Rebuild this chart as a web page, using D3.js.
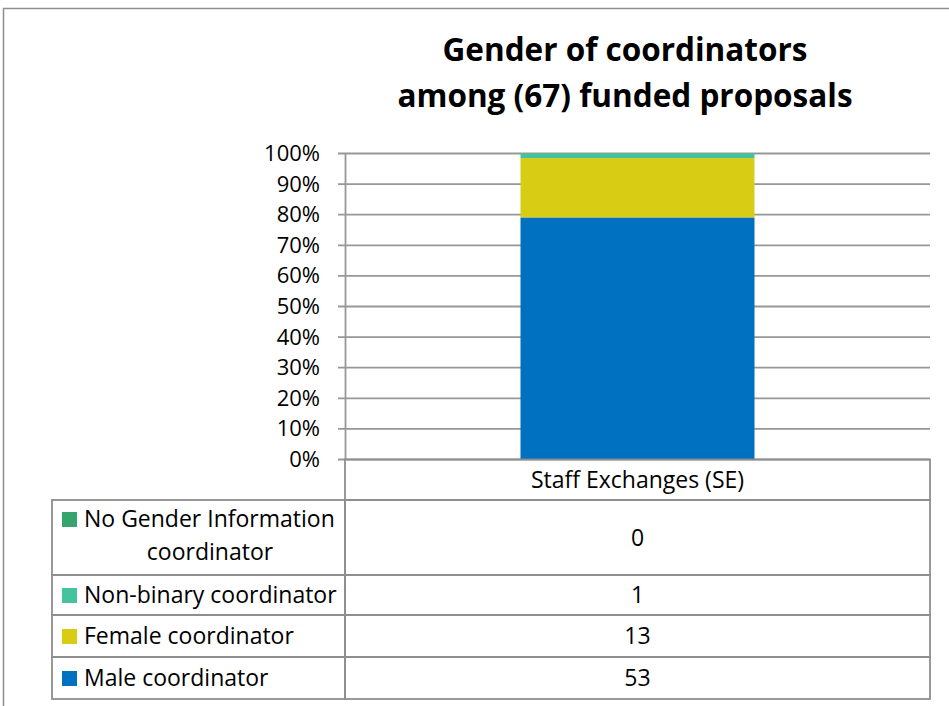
<!DOCTYPE html>
<html>
<head>
<meta charset="utf-8">
<script src="https://cdn.jsdelivr.net/npm/d3@7"></script>
<style>
  body { margin: 0; background: #fff; }
  svg { font-family: "Open Sans", Lato, sans-serif; }
</style>
</head>
<body>
<div id="chart"></div>
<script>
// data
const categories = ['Staff Exchanges (SE)'];
const seriesNames = ['Male coordinator', 'Female coordinator', 'Non-binary coordinator', 'No Gender Information coordinator'];
const seriesValues = [[53], [13], [1], [0]];
const seriesColors = ['#0070c0', '#d8cd14', '#45c39f', '#36a46d'];
const tickValues = [0, 0.1, 0.2, 0.3, 0.4, 0.5, 0.6, 0.7, 0.8, 0.9, 1];
const titleLines = ['Gender of coordinators', 'among (67) funded proposals'];

const width = 949, height = 706;
const plot = { left: 345, right: 930, top: 153.5, bottom: 459.5 };
const tickFont = 22, tableFont = 23;

const svg = d3.select('#chart').append('svg')
    .attr('width', width)
    .attr('height', height);

// outer chart border
svg.append('rect')
    .attr('x', 3.5).attr('y', 8.5)
    .attr('width', 960).attr('height', 720)
    .attr('fill', 'none')
    .attr('stroke', '#8e8e8e')
    .attr('stroke-width', 1.5);

// title
svg.append('text')
    .attr('text-anchor', 'middle')
    .attr('font-weight', 'bold')
    .attr('font-size', 31.5)
    .attr('fill', '#000')
    .selectAll('tspan')
    .data(titleLines)
    .join('tspan')
    .attr('x', 625)
    .attr('y', (d, i) => 61 + i * 46)
    .text(d => d);

const y = d3.scaleLinear().domain([0, 1]).range([plot.bottom, plot.top]);
const x = d3.scaleBand().domain(categories).range([plot.left, plot.right]).paddingInner(0.6).paddingOuter(0.3);

// stack as percentages
const rows = categories.map((c, j) => {
    const row = { cat: c };
    const total = d3.sum(seriesValues, s => s[j]);
    seriesNames.forEach((n, i) => { row[n] = seriesValues[i][j] / total; });
    return row;
});
const stacked = d3.stack().keys(seriesNames)(rows);

// gridlines
svg.append('g')
    .selectAll('line')
    .data(tickValues)
    .join('line')
    .attr('x1', plot.left - 7).attr('x2', plot.right)
    .attr('y1', d => y(d)).attr('y2', d => y(d))
    .attr('stroke', '#979797')
    .attr('stroke-width', 1.8);

// bars
svg.append('g')
    .selectAll('g')
    .data(stacked)
    .join('g')
    .attr('fill', (d, i) => seriesColors[i])
    .selectAll('rect')
    .data(d => d)
    .join('rect')
    .attr('x', d => x(d.data.cat))
    .attr('width', x.bandwidth())
    .attr('y', d => y(d[1]))
    .attr('height', d => y(d[0]) - y(d[1]));

// y axis
const yAxis = svg.append('g')
    .attr('transform', `translate(${plot.left},0)`)
    .call(d3.axisLeft(y).tickValues(tickValues).tickFormat(d3.format('.0%')).tickSize(0).tickPadding(25));
yAxis.select('.domain').attr('stroke', '#979797').attr('stroke-width', 1.8);
yAxis.selectAll('text')
    .attr('font-family', '"Open Sans", sans-serif')
    .attr('font-size', tickFont)
    .attr('fill', '#000');

// data table
const tableLeft = 52, colSplit = plot.left, tableRight = plot.right;
const headTop = plot.bottom, headBottom = 500;
const rowBounds = [500, 575, 615, 657, 699];
const tableOrder = [3, 2, 1, 0];   // series order shown in table, top to bottom
const lineColor = '#8e8e8e';

const tbl = svg.append('g');

// header cell
tbl.append('rect')
    .attr('x', colSplit).attr('y', headTop)
    .attr('width', tableRight - colSplit).attr('height', headBottom - headTop)
    .attr('fill', 'none').attr('stroke', lineColor).attr('stroke-width', 1.8);
tbl.append('text')
    .attr('x', x(categories[0]) + x.bandwidth() / 2)
    .attr('y', 488)
    .attr('text-anchor', 'middle')
    .attr('font-size', tableFont)
    .text(categories[0]);

tableOrder.forEach((si, r) => {
    const top = rowBounds[r], bot = rowBounds[r + 1];
    tbl.append('rect')
        .attr('x', tableLeft).attr('y', top)
        .attr('width', colSplit - tableLeft).attr('height', bot - top)
        .attr('fill', 'none').attr('stroke', lineColor).attr('stroke-width', 1.8);
    tbl.append('rect')
        .attr('x', colSplit).attr('y', top)
        .attr('width', tableRight - colSplit).attr('height', bot - top)
        .attr('fill', 'none').attr('stroke', lineColor).attr('stroke-width', 1.8);

    const name = seriesNames[si];
    const lines = name === 'No Gender Information coordinator'
        ? ['No Gender Information', 'coordinator'] : [name];
    const firstBase = lines.length > 1 ? top + 27 : (top + bot) / 2 + 8;

    tbl.append('rect')
        .attr('x', 62).attr('y', firstBase - 15)
        .attr('width', 15).attr('height', 15)
        .attr('fill', seriesColors[si]);

    lines.forEach((ln, k) => {
        tbl.append('text')
            .attr('x', k === 0 ? 84 : 210)
            .attr('y', firstBase + k * 33)
            .attr('text-anchor', k === 0 ? 'start' : 'middle')
            .attr('font-size', tableFont)
            .text(ln);
    });

    tbl.append('text')
        .attr('x', x(categories[0]) + x.bandwidth() / 2)
        .attr('y', (top + bot) / 2 + 8)
        .attr('text-anchor', 'middle')
        .attr('font-size', tableFont)
        .text(seriesValues[si][0]);
});
</script>
</body>
</html>
